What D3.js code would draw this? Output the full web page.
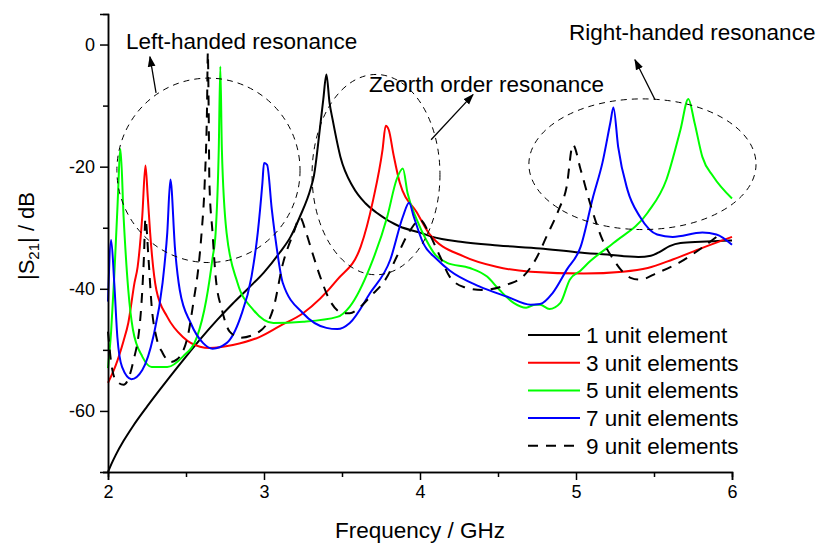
<!DOCTYPE html>
<html>
<head>
<meta charset="utf-8">
<script src="https://cdn.jsdelivr.net/npm/d3@7/dist/d3.min.js"></script>
<style>
  html, body { margin: 0; padding: 0; background: #fff; }
  svg { display: block; font-family: "Liberation Sans", Arial, sans-serif; }
</style>
</head>
<body>
<svg id="chart" width="820" height="543"></svg>
<script>
// |S21| transmission versus frequency for CRLH lines of different length
const freq1 = [2.00,2.02,2.05,2.10,2.16,2.25,2.33,2.40,2.50,2.60,2.70,2.80,2.90,3.00,3.10,3.17,3.23,3.30,3.32,3.36,3.38,3.40,3.42,3.44,3.49,3.57,3.65,3.72,3.87,4.00,4.08,4.26,4.50,4.77,5.00,5.20,5.40,5.48,5.54,5.60,5.67,5.80,6.00];
const s21_1 = [-70,-68.8,-67.2,-64.9,-62.5,-59.3,-56.6,-54.3,-51.1,-48.0,-45.1,-42.4,-39.9,-37.3,-34.1,-31.5,-28.2,-23.5,-21.5,-13.4,-9.0,-4.9,-9.5,-12.3,-18.4,-23.3,-26.0,-27.5,-29.8,-30.8,-31.5,-32.3,-32.9,-33.4,-34.0,-34.4,-34.8,-34.6,-33.9,-33.0,-32.5,-32.3,-32.1];

const freq3 = [2.00,2.05,2.10,2.13,2.17,2.19,2.22,2.24,2.255,2.27,2.31,2.38,2.48,2.59,2.65,2.80,2.97,3.10,3.25,3.47,3.62,3.70,3.76,3.78,3.80,3.83,3.87,3.98,4.06,4.28,4.49,4.71,5.05,5.30,5.46,5.62,5.81,6.00];
const s21_3 = [-55.4,-52.5,-48.5,-45.6,-39,-36.4,-28,-19.8,-25,-30.8,-40.2,-44.6,-47.9,-49.5,-49.7,-49.2,-47.9,-46.1,-44.0,-38.5,-33.1,-25.4,-17.2,-13.3,-14,-18,-22.6,-27.5,-31.0,-34.7,-36.4,-37.2,-37.5,-37.2,-36.6,-35.2,-33.3,-31.5];

const freq5 = [2.00,2.02,2.04,2.06,2.08,2.10,2.13,2.16,2.22,2.28,2.38,2.48,2.57,2.63,2.67,2.69,2.71,2.72,2.73,2.76,2.83,2.93,3.06,3.25,3.47,3.55,3.68,3.79,3.85,3.89,3.92,3.98,4.04,4.10,4.17,4.32,4.43,4.51,4.60,4.68,4.74,4.77,4.83,4.90,4.96,5.03,5.09,5.24,5.46,5.58,5.67,5.72,5.76,5.81,5.88,6.00];
const s21_5 = [-53,-47,-38,-27,-17.1,-28.2,-40.2,-46.7,-51.1,-52.8,-52.8,-51.1,-47.9,-41.8,-35,-30.8,-17.2,-3.6,-17.2,-30.8,-39.0,-43.4,-45.6,-45.4,-44.6,-42.9,-36.4,-28.2,-22.1,-20.3,-24.3,-28.7,-32.0,-34.5,-35.7,-36.6,-38.0,-40.2,-42.3,-43.1,-42.6,-42.6,-43.3,-42.3,-38.5,-37,-35.5,-32.5,-27.5,-22.1,-13.9,-8.9,-12.8,-18.4,-21.6,-25.2];

const freq7 = [2.00,2.02,2.04,2.06,2.09,2.15,2.22,2.29,2.35,2.38,2.40,2.43,2.46,2.53,2.61,2.67,2.76,2.85,2.92,2.96,2.99,3.00,3.02,3.05,3.08,3.12,3.25,3.40,3.47,3.55,3.68,3.81,3.89,3.93,3.96,4.02,4.11,4.19,4.38,4.56,4.71,4.77,4.85,4.94,5.03,5.11,5.17,5.22,5.24,5.27,5.33,5.41,5.52,5.62,5.81,5.90,6.00];
const s21_7 = [-42.1,-32.0,-39,-47.9,-52.8,-54.8,-53.3,-47.9,-39.0,-30.8,-22.1,-33.6,-40.2,-45.6,-48.9,-49.8,-48.9,-44.6,-38.0,-30.8,-22.6,-19.4,-19.7,-27,-33,-39,-44,-46.4,-46.6,-45.6,-40.7,-35.2,-28.2,-25.9,-28.2,-32.5,-35.2,-37,-39.6,-41.3,-42.6,-42.5,-40.7,-36.9,-33.1,-24.9,-19.3,-12.8,-10.3,-16.7,-23.8,-28.2,-31.1,-31.5,-30.8,-31.1,-32.8];

const freq9 = [2.00,2.02,2.05,2.10,2.16,2.21,2.23,2.24,2.26,2.28,2.31,2.35,2.40,2.44,2.51,2.55,2.58,2.60,2.62,2.635,2.64,2.645,2.65,2.67,2.69,2.73,2.78,2.85,2.97,3.06,3.12,3.19,3.23,3.27,3.31,3.36,3.42,3.51,3.55,3.62,3.68,3.79,3.85,3.94,4.00,4.06,4.13,4.19,4.28,4.40,4.56,4.66,4.75,4.81,4.89,4.94,4.98,5.03,5.09,5.17,5.24,5.35,5.41,5.52,5.67,5.79,5.94];
const s21_9 = [-47,-52,-55,-55.7,-52.1,-44,-35,-28.5,-35.2,-42.9,-47.9,-50.5,-52,-51.6,-47.9,-41.8,-36.4,-30.8,-22.6,-10,-1.3,-10,-22.6,-30.8,-38,-43.4,-47,-48,-47,-43.2,-36,-30.8,-28.3,-30.8,-34.1,-38,-41.8,-44,-44,-42.9,-41.3,-38,-34.8,-30.3,-28.7,-31,-34.8,-38,-39.7,-40.2,-39.3,-38,-34.8,-31.5,-27,-23.3,-16.4,-20.5,-26,-32,-35.2,-38.2,-38.5,-37.4,-35.6,-33.6,-30.7];

const seriesNames = ["1 unit element","3 unit elements","5 unit elements","7 unit elements","9 unit elements"];
const seriesColors = ["#000000","#ff0000","#00ff00","#0000ff","#000000"];
const seriesDash = [null,null,null,null,"10,8"];
const seriesFreq = [freq1,freq3,freq5,freq7,freq9];
const seriesS21 = [s21_1,s21_3,s21_5,s21_7,s21_9];

const xTicks = [2,3,4,5,6];
const xMinorTicks = [2.5,3.5,4.5,5.5];
const yTicks = [0,-20,-40,-60];
const yMinorTicks = [-10,-30,-50,-70];

// Annotation ellipses (centre frequency, centre dB, half-width GHz, half-height dB)
const regionEllipses = [
  [2.644,-20.6,0.587,15.1],
  [3.718,-21.3,0.410,16.4],
  [5.426,-19.6,0.728,10.7]
];
const regionLabels = ["Left-handed resonance","Zeorth order resonance","Right-handed resonance"];
const regionLabelPos = [[2.115,-0.8],[3.673,-7.7],[4.955,0.8]];
// arrows: [from f, from dB, to f, to dB]
const regionArrows = [
  [2.308,-7.9,2.269,-2.0],
  [4.071,-15.6,4.340,-8.2],
  [5.506,-9.0,5.378,-2.5]
];

const svg = d3.select("#chart");
const x = d3.scaleLinear().domain([2,6]).range([108,732]);
const y = d3.scaleLinear().domain([-70,5]).range([472,14]);

// Curves
const line = d3.line().x(d => x(d[0])).y(d => y(d[1])).curve(d3.curveMonotoneX);
seriesFreq.forEach((fs, i) => {
  const pts = fs.map((f, k) => [f, seriesS21[i][k]]);
  svg.append("path")
    .attr("d", line(pts))
    .attr("fill", "none")
    .attr("stroke", seriesColors[i])
    .attr("stroke-width", 2)
    .attr("stroke-linejoin", "round")
    .attr("stroke-dasharray", seriesDash[i]);
});

// Axes
const fontTick = 18;
const xAxis = d3.axisBottom(x).tickValues(xTicks).tickSize(8).tickPadding(5).tickFormat(d3.format("d"));
const xMinor = d3.axisBottom(x).tickValues(xMinorTicks).tickSize(5).tickFormat("");
const yAxis = d3.axisLeft(y).tickValues(yTicks).tickSize(8).tickPadding(5).tickFormat(d => d === 0 ? "0" : d3.format("d")(d).replace("−","-"));
const yMinor = d3.axisLeft(y).tickValues(yMinorTicks).tickSize(5).tickFormat("");

function styleAxis(g) {
  g.select(".domain").attr("stroke", "#000").attr("stroke-width", 1.5);
  g.selectAll(".tick line").attr("stroke", "#000").attr("stroke-width", 1.5);
  g.selectAll(".tick text").attr("fill", "#000").attr("font-size", fontTick)
    .attr("font-family", "'Liberation Sans', Arial, sans-serif");
}
svg.append("g").attr("transform", "translate(0,472)").call(xMinor).call(styleAxis);
svg.append("g").attr("transform", "translate(0,472)").call(xAxis).call(styleAxis);
svg.append("g").attr("transform", "translate(108,0)").call(yMinor).call(styleAxis);
svg.append("g").attr("transform", "translate(108,0)").call(yAxis).call(styleAxis);

// Axis titles
svg.append("text")
  .attr("x", 420).attr("y", 538)
  .attr("text-anchor", "middle").attr("font-size", 22.5)
  .text("Frequency / GHz");

const yTitle = svg.append("text")
  .attr("transform", "translate(34,236) rotate(-90)")
  .attr("text-anchor", "middle").attr("font-size", 22);
yTitle.append("tspan").text("|S");
yTitle.append("tspan").attr("font-size", 15).attr("dy", 5).text("21");
yTitle.append("tspan").attr("dy", -5).text("| / dB");

// Region ellipses
regionEllipses.forEach(e => {
  svg.append("ellipse")
    .attr("cx", x(e[0])).attr("cy", y(e[1]))
    .attr("rx", x(e[0] + e[2]) - x(e[0]))
    .attr("ry", y(e[1] - e[3]) - y(e[1]))
    .attr("fill", "none").attr("stroke", "#000")
    .attr("stroke-width", 1).attr("stroke-dasharray", "6,5");
});

// Region labels
regionLabels.forEach((t, i) => {
  svg.append("text")
    .attr("x", x(regionLabelPos[i][0])).attr("y", y(regionLabelPos[i][1]))
    .attr("font-size", 22.5).attr("fill", "#000").text(t);
});

// Arrows
svg.append("defs").append("marker")
  .attr("id", "arrowhead").attr("viewBox", "0 0 10 10")
  .attr("refX", 9).attr("refY", 5)
  .attr("markerWidth", 11).attr("markerHeight", 11)
  .attr("markerUnits", "userSpaceOnUse")
  .attr("orient", "auto")
  .append("path").attr("d", "M0,1.5 L10,5 L0,8.5 Z").attr("fill", "#000");

regionArrows.forEach(a => {
  svg.append("line")
    .attr("x1", x(a[0])).attr("y1", y(a[1]))
    .attr("x2", x(a[2])).attr("y2", y(a[3]))
    .attr("stroke", "#000").attr("stroke-width", 1.3)
    .attr("marker-end", "url(#arrowhead)");
});

// Legend
const legend = svg.append("g");
seriesNames.forEach((name, i) => {
  const ly = 335 + i * 27.7;
  legend.append("line")
    .attr("x1", 528).attr("x2", 580).attr("y1", ly).attr("y2", ly)
    .attr("stroke", seriesColors[i]).attr("stroke-width", 2)
    .attr("stroke-dasharray", seriesDash[i]);
  legend.append("text")
    .attr("x", 586).attr("y", ly + 8)
    .attr("font-size", 22.5).attr("fill", "#000").text(name);
});
</script>
</body>
</html>
